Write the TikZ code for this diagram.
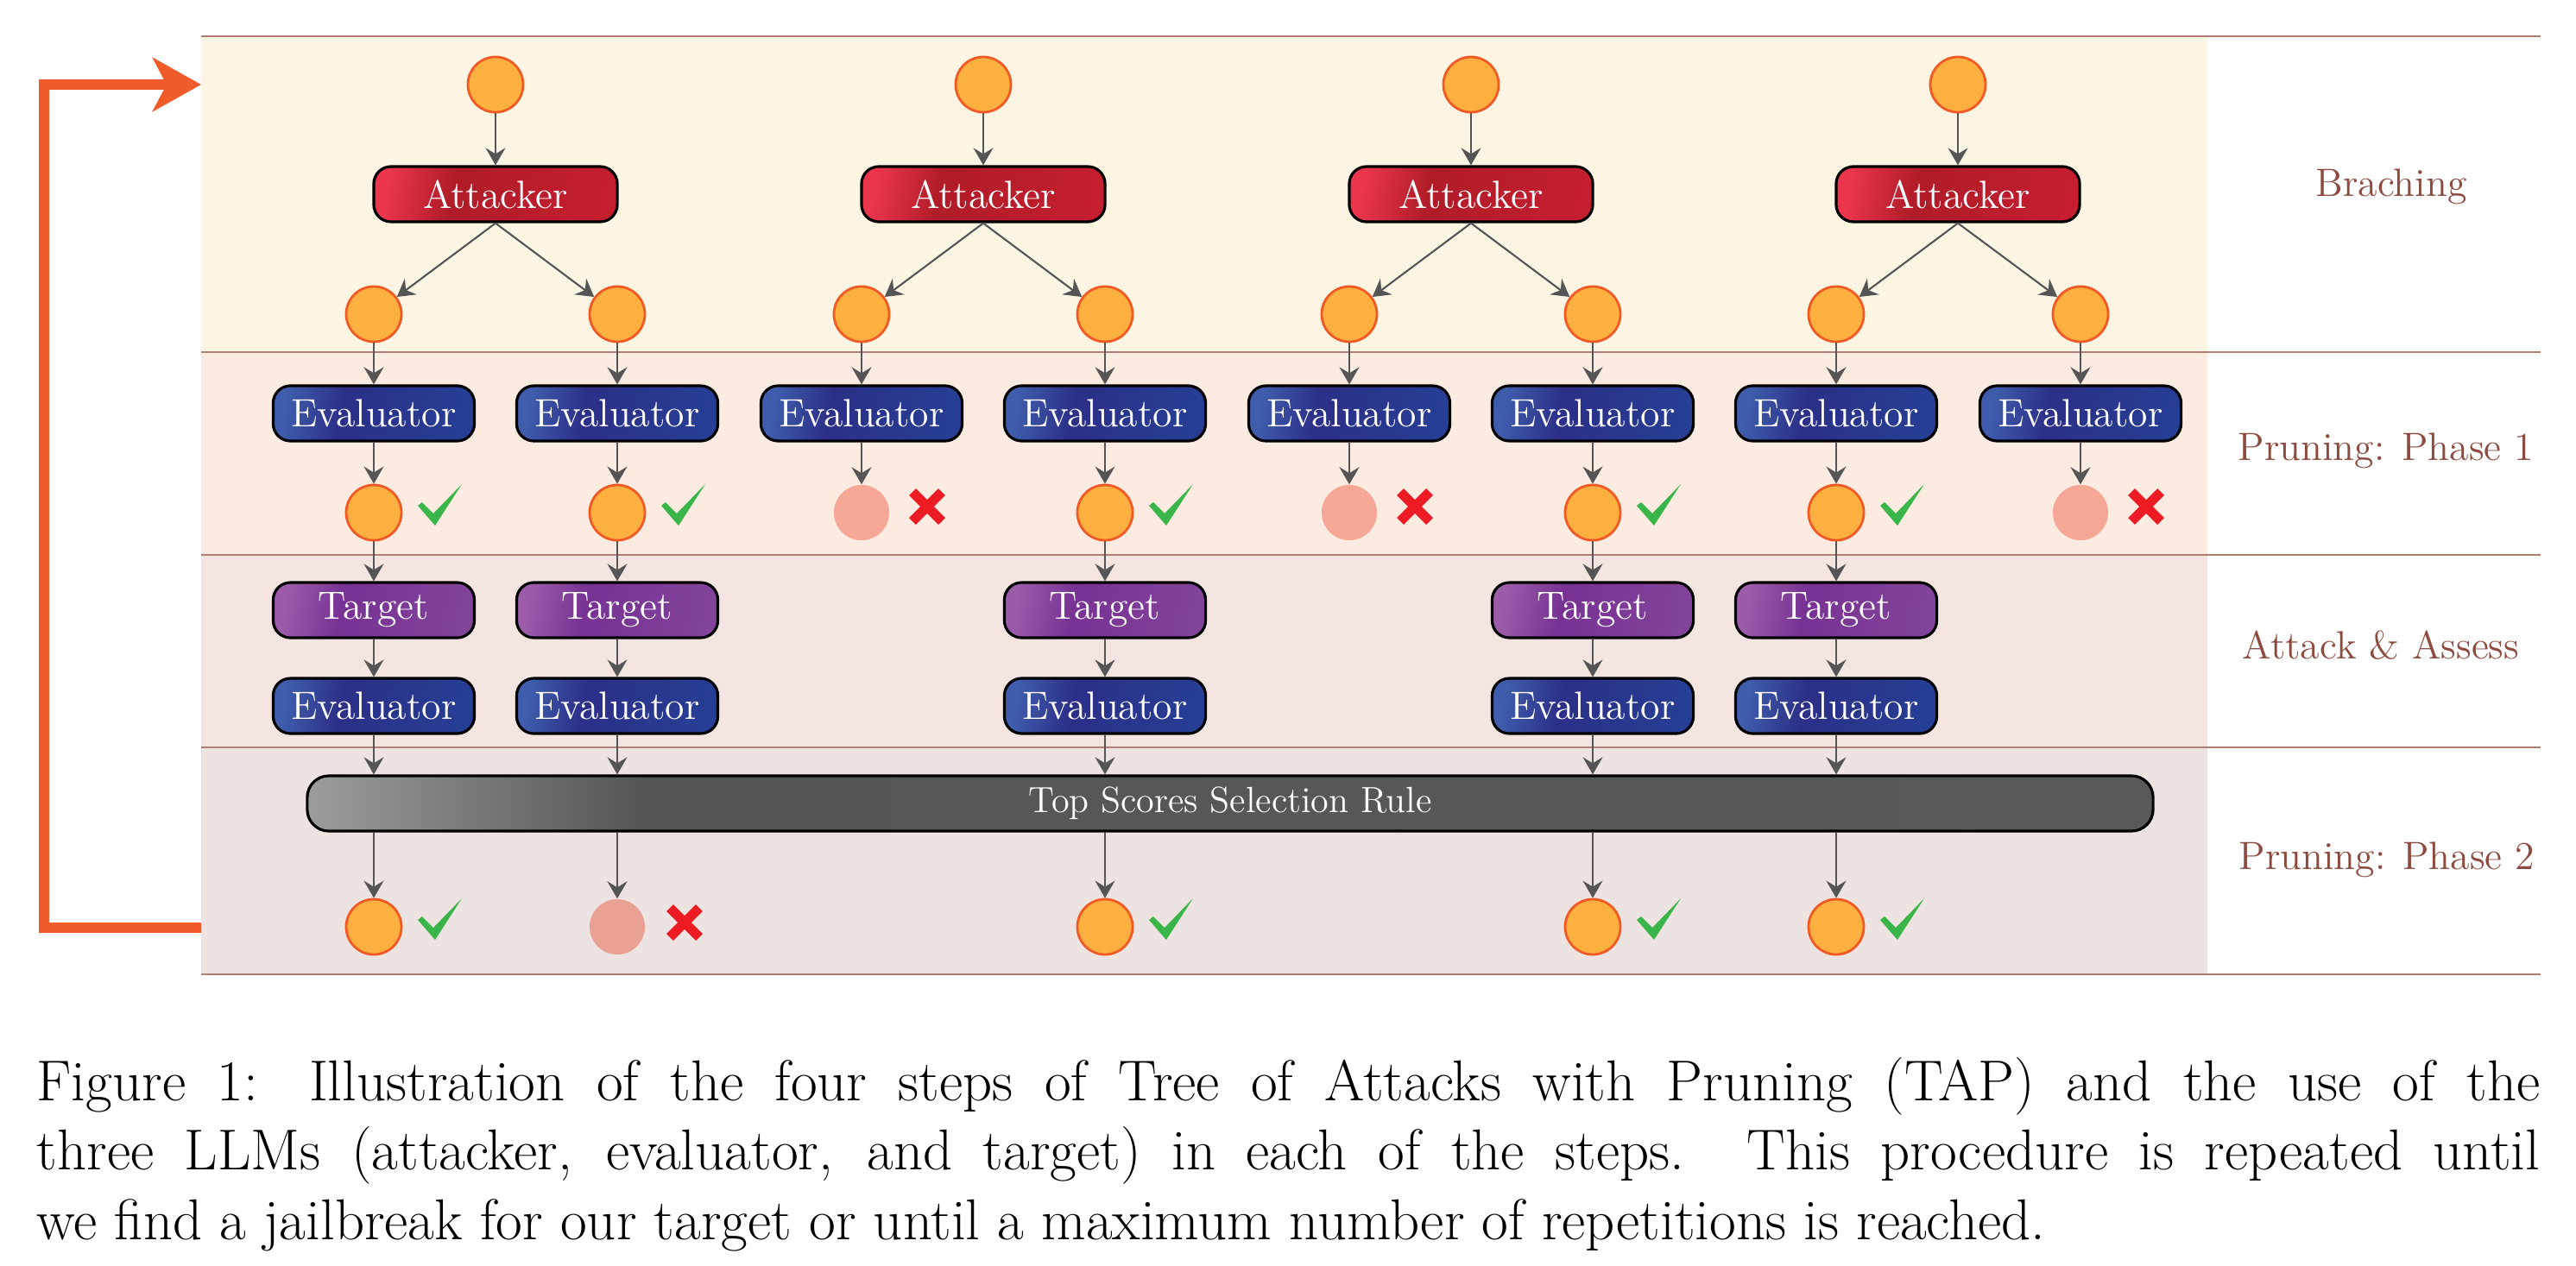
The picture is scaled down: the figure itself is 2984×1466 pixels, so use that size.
\documentclass[tikz,border=0pt]{standalone}
\usetikzlibrary{arrows.meta,positioning}

\definecolor{bandA}{HTML}{FDF5E4}
\definecolor{bandB}{HTML}{FBEBE1}
\definecolor{bandC}{HTML}{F4E5E1}
\definecolor{bandD}{HTML}{EDE4E1}
\definecolor{sepcol}{HTML}{B07F73}
\definecolor{lblcol}{HTML}{8C4B3E}
\definecolor{loopcol}{HTML}{F15A29}
\definecolor{arrcol}{HTML}{555555}
\definecolor{nodefill}{HTML}{FBB040}
\definecolor{nodeline}{HTML}{F15A24}
\definecolor{deadA}{HTML}{F6A796}
\definecolor{deadB}{HTML}{E9A194}
\definecolor{okcol}{HTML}{39B54A}
\definecolor{nocol}{HTML}{ED1C24}
\definecolor{attA}{HTML}{EA354D}
\definecolor{attB}{HTML}{B01C28}
\definecolor{attC}{HTML}{C41E30}
\definecolor{evA}{HTML}{3F5DAC}
\definecolor{evB}{HTML}{2C2F87}
\definecolor{evC}{HTML}{263E94}
\definecolor{tgA}{HTML}{9C5CAA}
\definecolor{tgB}{HTML}{773293}
\definecolor{tgC}{HTML}{82439A}
\definecolor{barA}{HTML}{9C9C9A}
\definecolor{barB}{HTML}{555656}
\definecolor{barC}{HTML}{595959}

\pgfdeclarehorizontalshading{attshade}{100bp}{color(0bp)=(attA); color(25bp)=(attA); color(40bp)=(attB); color(75bp)=(attC); color(100bp)=(attC)}
\pgfdeclarehorizontalshading{evshade}{100bp}{color(0bp)=(evA); color(25bp)=(evA); color(41bp)=(evB); color(75bp)=(evC); color(100bp)=(evC)}
\pgfdeclarehorizontalshading{tgshade}{100bp}{color(0bp)=(tgA); color(25bp)=(tgA); color(41bp)=(tgB); color(75bp)=(tgC); color(100bp)=(tgC)}
\pgfdeclarehorizontalshading{barshade}{100bp}{color(0bp)=(barA); color(25bp)=(barA); color(34bp)=(barB); color(75bp)=(barC); color(100bp)=(barC)}

\begin{document}
\begin{tikzpicture}[x=0.01cm,y=-0.01cm,
  arr/.style={-{Stealth[length=2mm,width=2.3mm,inset=0.7mm]},draw=arrcol,line width=0.6pt},
  llm/.style={draw=black,line width=0.9pt,rounded corners=0.2cm,shade,shading angle=-10,text=white,
    minimum height=0.64cm,inner sep=0pt,font=\fontsize{13}{15}\selectfont},
  attacker/.style={llm,shading=attshade,minimum width=2.82cm},
  evaluator/.style={llm,shading=evshade,minimum width=2.33cm},
  target/.style={llm,shading=tgshade,minimum width=2.33cm},
  prompt/.style={circle,minimum size=0.64cm,inner sep=0pt,fill=nodefill,draw=nodeline,line width=0.8pt},
  dropped/.style={circle,minimum size=0.64cm,inner sep=0pt,fill=deadA},
  steplabel/.style={text=lblcol,font=\fontsize{13}{15}\selectfont},
  sepline/.style={draw=sepcol,line width=0.6pt},
  pass/.pic={\fill[okcol] (-26,1) -- (-21,-3) -- (-8,10) -- (25,-24) -- (-6,24) -- cycle;},
  fail/.pic={\draw[nocol,line width=0.11cm] (-17,-17) -- (17,17) (-17,17) -- (17,-17);}]
\useasboundingbox (0,0) rectangle (2984,1466);

% bands
\fill[bandA] (233,42) rectangle (2557,408);
\fill[bandB] (233,408) rectangle (2557,643);
\fill[bandC] (233,643) rectangle (2557,866);
\fill[bandD] (233,866) rectangle (2557,1129);
\draw[sepline] (233,42) -- (2943,42);
\draw[sepline] (233,408) -- (2943,408);
\draw[sepline] (233,643) -- (2943,643);
\draw[sepline] (233,866) -- (2943,866);
\draw[sepline] (233,1129) -- (2943,1129);

\node[steplabel] (lb1) at (2770,216) {Braching};
\node[steplabel] (lb2) at (2764,522) {Pruning: Phase 1};
\node[steplabel] (lb3) at (2758,748) {Attack \& Assess};
\node[steplabel] (lb4) at (2765,996) {Pruning: Phase 2};

% branching
\node[prompt] (r1) at (574,98) {};
\node[prompt] (r2) at (1139,98) {};
\node[prompt] (r3) at (1704,98) {};
\node[prompt] (r4) at (2268,98) {};
\node[attacker] (att1) at (574,225) {Attacker};
\node[attacker] (att2) at (1139,225) {Attacker};
\node[attacker] (att3) at (1704,225) {Attacker};
\node[attacker] (att4) at (2268,225) {Attacker};
\node[prompt] (c1) at (433,364) {};
\node[prompt] (c2) at (715,364) {};
\node[prompt] (c3) at (998,364) {};
\node[prompt] (c4) at (1280,364) {};
\node[prompt] (c5) at (1563,364) {};
\node[prompt] (c6) at (1845,364) {};
\node[prompt] (c7) at (2127,364) {};
\node[prompt] (c8) at (2410,364) {};
\draw[arr] (r1) -- (att1);
\draw[arr] (r2) -- (att2);
\draw[arr] (r3) -- (att3);
\draw[arr] (r4) -- (att4);
\draw[arr] (att1.south) -- (c1);
\draw[arr] (att1.south) -- (c2);
\draw[arr] (att2.south) -- (c3);
\draw[arr] (att2.south) -- (c4);
\draw[arr] (att3.south) -- (c5);
\draw[arr] (att3.south) -- (c6);
\draw[arr] (att4.south) -- (c7);
\draw[arr] (att4.south) -- (c8);

% pruning, phase 1
\node[evaluator] (ev1) at (433,479) {Evaluator};
\node[evaluator] (ev2) at (715,479) {Evaluator};
\node[evaluator] (ev3) at (998,479) {Evaluator};
\node[evaluator] (ev4) at (1280,479) {Evaluator};
\node[evaluator] (ev5) at (1563,479) {Evaluator};
\node[evaluator] (ev6) at (1845,479) {Evaluator};
\node[evaluator] (ev7) at (2127,479) {Evaluator};
\node[evaluator] (ev8) at (2410,479) {Evaluator};
\node[prompt] (p1) at (433,594) {};
\node[prompt] (p2) at (715,594) {};
\node[dropped] (p3) at (998,594) {};
\node[prompt] (p4) at (1280,594) {};
\node[dropped] (p5) at (1563,594) {};
\node[prompt] (p6) at (1845,594) {};
\node[prompt] (p7) at (2127,594) {};
\node[dropped] (p8) at (2410,594) {};
\pic at (510,585) {pass};
\pic at (792,585) {pass};
\pic at (1074,587) {fail};
\pic at (1357,585) {pass};
\pic at (1639,587) {fail};
\pic at (1922,585) {pass};
\pic at (2204,585) {pass};
\pic at (2486,587) {fail};
\draw[arr] (c1) -- (ev1);
\draw[arr] (c2) -- (ev2);
\draw[arr] (c3) -- (ev3);
\draw[arr] (c4) -- (ev4);
\draw[arr] (c5) -- (ev5);
\draw[arr] (c6) -- (ev6);
\draw[arr] (c7) -- (ev7);
\draw[arr] (c8) -- (ev8);
\draw[arr] (ev1) -- (p1);
\draw[arr] (ev2) -- (p2);
\draw[arr] (ev3) -- (p3);
\draw[arr] (ev4) -- (p4);
\draw[arr] (ev5) -- (p5);
\draw[arr] (ev6) -- (p6);
\draw[arr] (ev7) -- (p7);
\draw[arr] (ev8) -- (p8);

% attack and assess
\node[target] (tg1) at (433,707) {Target};
\node[target] (tg2) at (715,707) {Target};
\node[target] (tg4) at (1280,707) {Target};
\node[target] (tg6) at (1845,707) {Target};
\node[target] (tg7) at (2127,707) {Target};
\node[evaluator] (sc1) at (433,818) {Evaluator};
\node[evaluator] (sc2) at (715,818) {Evaluator};
\node[evaluator] (sc4) at (1280,818) {Evaluator};
\node[evaluator] (sc6) at (1845,818) {Evaluator};
\node[evaluator] (sc7) at (2127,818) {Evaluator};
\draw[arr] (p1) -- (tg1);
\draw[arr] (p2) -- (tg2);
\draw[arr] (p4) -- (tg4);
\draw[arr] (p6) -- (tg6);
\draw[arr] (p7) -- (tg7);
\draw[arr] (tg1) -- (sc1);
\draw[arr] (tg2) -- (sc2);
\draw[arr] (tg4) -- (sc4);
\draw[arr] (tg6) -- (sc6);
\draw[arr] (tg7) -- (sc7);

% pruning, phase 2
\node[llm,shading=barshade,shading angle=0,minimum width=21.37cm,rounded corners=0.25cm,
  font=\fontsize{12}{14}\selectfont] (bar) at (1425,931) {Top Scores Selection Rule};
\node[prompt] (f1) at (433,1074) {};
\node[dropped,fill=deadB] (f2) at (715,1074) {};
\node[prompt] (f4) at (1280,1074) {};
\node[prompt] (f6) at (1845,1074) {};
\node[prompt] (f7) at (2127,1074) {};
\pic at (510,1065) {pass};
\pic at (793,1069) {fail};
\pic at (1357,1065) {pass};
\pic at (1922,1065) {pass};
\pic at (2204,1065) {pass};
\draw[arr] (sc1) -- (sc1 |- bar.north);
\draw[arr] (sc2) -- (sc2 |- bar.north);
\draw[arr] (sc4) -- (sc4 |- bar.north);
\draw[arr] (sc6) -- (sc6 |- bar.north);
\draw[arr] (sc7) -- (sc7 |- bar.north);
\draw[arr] (f1 |- bar.south) -- (f1);
\draw[arr] (f2 |- bar.south) -- (f2);
\draw[arr] (f4 |- bar.south) -- (f4);
\draw[arr] (f6 |- bar.south) -- (f6);
\draw[arr] (f7 |- bar.south) -- (f7);

% repeat
\coordinate (loopin) at (233,1075);
\coordinate (loopout) at (233,98);
\draw[loopcol,line width=0.12cm,-{Stealth[length=5.6mm,width=6.2mm,inset=1.6mm]}]
  (loopin) -- ++(-182,0) |- (loopout);

\node[anchor=north west,inner sep=0pt,text width=28.98cm,align=justify,
  font=\fontsize{19}{22.8}\selectfont] (caption) at (42,1225)
  {Figure 1: Illustration of the four steps of Tree of Attacks with Pruning (TAP) and the use of the\linebreak
   three LLMs (attacker, evaluator, and target) in each of the steps. This procedure is repeated until\linebreak
   we find a jailbreak for our target or until a maximum number of repetitions is reached.};
\end{tikzpicture}
\end{document}
